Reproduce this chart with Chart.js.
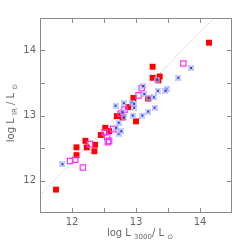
<!DOCTYPE html>
<html>
<head>
<meta charset="utf-8">
<script src="https://cdn.jsdelivr.net/npm/chart.js@4/dist/chart.umd.min.js"></script>
<style>
  html, body { margin: 0; padding: 0; background: #fff; }
  canvas { display: block; }
</style>
</head>
<body>
<canvas id="chart" width="244" height="248"></canvas>
<script>
/* ── data (log L3000, log LIR) ── */
const redX = [14.14, 13.26, 13.26, 13.37, 13.35, 12.96, 13.19, 12.88, 12.70, 12.77, 12.79, 13.00,
              12.52, 12.58, 12.45, 12.07, 12.23, 12.21, 12.36, 12.35, 12.07, 11.75];
const redY = [14.12, 13.75, 13.58, 13.60, 13.54, 13.27, 13.26, 13.13, 12.99, 13.00, 12.97, 12.91,
              12.81, 12.76, 12.70, 12.51, 12.51, 12.61, 12.55, 12.45, 12.39, 11.86];

const magX = [13.74, 13.09, 13.04, 12.82, 12.76, 12.64, 12.51, 12.55, 12.56, 12.58, 12.28, 11.97, 12.05, 12.17];
const magY = [13.80, 13.42, 13.31, 13.09, 13.03, 12.79, 12.74, 12.67, 12.59, 12.61, 12.56, 12.30, 12.32, 12.20];

const blueX = [13.86, 13.66, 13.33, 13.48, 13.46, 13.34, 13.28, 13.11, 13.13, 12.93, 12.97, 12.97, 12.81,
               12.68, 13.19, 13.29, 13.10, 12.95, 12.81, 12.79, 12.73, 12.69, 12.73, 12.77, 11.85, 13.20];
const blueY = [13.73, 13.58, 13.55, 13.41, 13.38, 13.38, 13.28, 13.45, 13.33, 13.20, 13.18, 13.12, 13.19,
               13.15, 13.06, 13.12, 13.00, 13.00, 12.97, 13.05, 12.89, 12.81, 12.72, 12.76, 12.25, 13.27];

const fitX = [11.5, 14.22];
const fitY = [11.78, 14.5];

const axisMin   = 11.5;
const axisMax   = 14.5;
const labelVals = [12, 13, 14];
const tickVals  = [12, 12.5, 13, 13.5, 14];

const pts = (xs, ys) => xs.map((x, i) => ({ x, y: ys[i] }));

/* blue asterisk marker with dark centre */
function makeStar() {
  const c = document.createElement('canvas');
  c.width = 6; c.height = 6;
  const g = c.getContext('2d');
  g.fillStyle = 'rgba(175,185,255,0.55)';
  g.fillRect(0, 0, 6, 6);
  g.strokeStyle = 'rgba(130,145,255,0.8)';
  g.lineWidth = 1;
  g.beginPath();
  g.moveTo(0.5, 0.5); g.lineTo(5.5, 5.5);
  g.moveTo(5.5, 0.5); g.lineTo(0.5, 5.5);
  g.stroke();
  g.fillStyle = '#2a36d8';
  g.fillRect(2, 2, 2, 2);
  return c;
}

/* ── frame, inward ticks, axis titles ── */
const framePlugin = {
  id: 'frame',
  afterDraw(chart) {
    const { ctx, chartArea: a, scales } = chart;
    ctx.save();
    ctx.strokeStyle = '#8a8a8a';
    ctx.lineWidth = 1;
    ctx.strokeRect(a.left + 0.5, a.top + 0.5, a.right - a.left - 1, a.bottom - a.top - 1);

    const len = 5;
    ctx.beginPath();
    tickVals.forEach(v => {
      const px = Math.round(scales.x.getPixelForValue(v)) + 0.5;
      ctx.moveTo(px, a.bottom); ctx.lineTo(px, a.bottom - len);
      ctx.moveTo(px, a.top);    ctx.lineTo(px, a.top + len);
      const py = Math.round(scales.y.getPixelForValue(v)) + 0.5;
      ctx.moveTo(a.left, py);   ctx.lineTo(a.left + len, py);
      ctx.moveTo(a.right, py);  ctx.lineTo(a.right - len, py);
    });
    ctx.stroke();

    ctx.fillStyle = '#666';
    ctx.textBaseline = 'alphabetic';
    const big = '10px "DejaVu Sans", sans-serif';
    const sml = '7px "DejaVu Sans", sans-serif';

    // x title: log L3000 / L⊙
    const parts = [
      ['log L ', big, 0], ['3000', sml, 3], ['/ L ', big, 0], ['⊙', sml, 3]
    ];
    let w = 0;
    parts.forEach(p => { ctx.font = p[1]; w += ctx.measureText(p[0]).width; });
    let x = 140 - w / 2;
    parts.forEach(p => {
      ctx.font = p[1];
      ctx.fillText(p[0], x, 236 + p[2]);
      x += ctx.measureText(p[0]).width;
    });

    // y title: log LIR / L⊙
    const yparts = [
      ['log L ', big, 0], ['IR', sml, 3], [' / L ', big, 0], ['⊙', sml, 3]
    ];
    ctx.translate(14, 113);
    ctx.rotate(-Math.PI / 2);
    w = 0;
    yparts.forEach(p => { ctx.font = p[1]; w += ctx.measureText(p[0]).width; });
    x = -w / 2;
    yparts.forEach(p => {
      ctx.font = p[1];
      ctx.fillText(p[0], x, 0 + p[2]);
      x += ctx.measureText(p[0]).width;
    });
    ctx.restore();
  }
};

const tickFont = { family: '"DejaVu Sans", sans-serif', size: 10 };

new Chart(document.getElementById('chart'), {
  type: 'scatter',
  data: {
    datasets: [
      {
        type: 'line',
        data: pts(fitX, fitY),
        borderColor: '#a8a8a8',
        borderWidth: 1,
        borderDash: [1, 2],
        pointRadius: 0,
        fill: false,
        order: 10,
      },
      {
        data: pts(redX, redY),
        pointStyle: 'rect',
        pointRadius: 4.2,
        backgroundColor: '#ff0000',
        borderColor: '#ff0000',
        borderWidth: 0,
        order: 3,
      },
      {
        data: pts(magX, magY),
        pointStyle: 'rect',
        pointRadius: 3.8,
        backgroundColor: 'rgba(0,0,0,0)',
        borderColor: '#ff33ff',
        borderWidth: 1.2,
        order: 2,
      },
      {
        data: pts(blueX, blueY),
        pointStyle: makeStar(),
        order: 1,
      },
    ],
  },
  options: {
    responsive: false,
    animation: false,
    events: [],
    layout: { padding: { left: 0, right: 12, top: 18, bottom: 0 } },
    plugins: { legend: { display: false }, tooltip: { enabled: false } },
    scales: {
      x: {
        type: 'linear',
        min: axisMin,
        max: axisMax,
        border: { display: false },
        grid: { display: false, drawTicks: false },
        ticks: { color: '#666', font: tickFont, padding: 3, maxRotation: 0 },
        afterBuildTicks: s => { s.ticks = labelVals.map(v => ({ value: v })); },
        afterFit: s => { s.height = 35; },
      },
      y: {
        type: 'linear',
        min: axisMin,
        max: axisMax,
        border: { display: false },
        grid: { display: false, drawTicks: false },
        ticks: { color: '#666', font: tickFont, padding: 4 },
        afterBuildTicks: s => { s.ticks = labelVals.map(v => ({ value: v })); },
        afterFit: s => { s.width = 40; },
      },
    },
  },
  plugins: [framePlugin],
});
</script>
</body>
</html>
